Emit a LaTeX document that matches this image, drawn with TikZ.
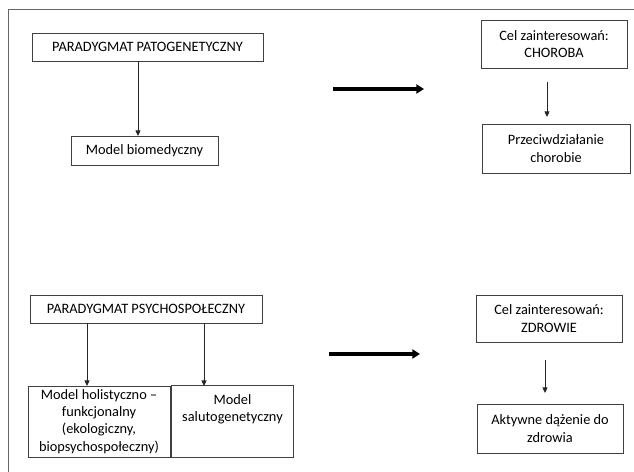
\documentclass[tikz,border=0pt]{standalone}
\usepackage{fontspec}
\setmainfont{Carlito}
\usetikzlibrary{arrows.meta}

\newcommand{\pxu}{0.025cm}

\begin{document}
\begin{tikzpicture}[x=0.025cm, y=-0.025cm,
    every node/.style={font=\fontsize{10.2}{12.2}\selectfont, align=center, inner sep=0pt, outer sep=0pt, text=black},
    box/.style={draw=black!75, line width=0.7pt},
    size/.style 2 args={minimum width=#1*\pxu, minimum height=#2*\pxu},
    thin arrow/.style={-{Triangle[length=4pt,width=3.6pt]}, line width=0.6pt, black!85},
    thick arrow/.style={-{Triangle[length=5.5pt,width=6.5pt]}, line width=2.2pt}]
    \useasboundingbox (0,0) rectangle (634,472);

    % Frame
    \draw[black!60, line width=0.7pt] (8,472) -- (8,9) -- (634,9);

    % Upper part
    \node[box, size={231}{28}] (patog) at (147.5,47) {PARADYGMAT PATOGENETYCZNY};
    \node[box, size={147}{29}] (biomed) at (144.5,150.5) {Model biomedyczny};
    \node[box, size={146}{48}] (choroba) at (554,44) {Cel zainteresowań:\\CHOROBA};
    \node[box, size={148}{49}] (przeciw) at (556,148.5) {Przeciwdziałanie\\chorobie};

    \coordinate (p1) at ([xshift=-9.5*\pxu]patog.south);
    \draw[thin arrow] (p1) -- (p1 |- biomed.north);
    \coordinate (c1) at ([xshift=-7*\pxu]choroba.south);
    \draw[thin arrow, shorten <=14*\pxu, shorten >=7*\pxu] (c1) -- (c1 |- przeciw.north);
    \coordinate (t1) at (333,89);
    \coordinate (t2) at (424,89);
    \draw[thick arrow] (t1) -- (t2);

    % Lower part
    \node[box, size={232}{28}] (psycho) at (146,309) {PARADYGMAT PSYCHOSPOŁECZNY};
    \node[box, size={142}{71}] (holist) at (99,421.5) {Model holistyczno --\\funkcjonalny\\(ekologiczny,\\biopsychospołeczny)};
    \node[box] (saluto) at (232.5,421.5) {\parbox[c][1.775cm][t]{3.025cm}{\centering\vspace{6pt}Model\\salutogenetyczny}};
    \node[box, size={146}{47}] (zdrowie) at (549,318.5) {Cel zainteresowań:\\ZDROWIE};
    \node[box, size={146}{49}] (aktywne) at (550,428.5) {Aktywne dążenie do\\zdrowia};

    \coordinate (h1) at ([xshift=-59*\pxu]psycho.south);
    \draw[thin arrow] (h1) -- (h1 |- holist.north);
    \coordinate (s1) at ([xshift=58*\pxu]psycho.south);
    \draw[thin arrow] (s1) -- (s1 |- saluto.north);
    \coordinate (z1) at ([xshift=-4*\pxu]zdrowie.south);
    \draw[thin arrow, shorten <=18*\pxu, shorten >=11*\pxu] (z1) -- (z1 |- aktywne.north);
    \coordinate (t3) at (329,354);
    \coordinate (t4) at (420,354);
    \draw[thick arrow] (t3) -- (t4);

\end{tikzpicture}
\end{document}
